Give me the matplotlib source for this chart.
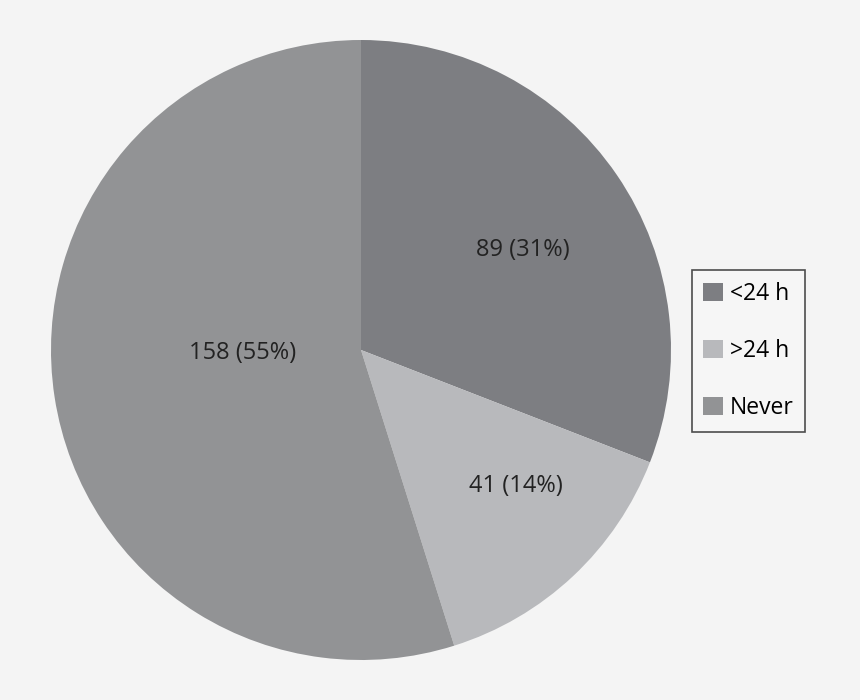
import matplotlib
matplotlib.use("Agg")
import matplotlib.pyplot as plt
from matplotlib.patches import Patch

categories = ["<24 h", ">24 h", "Never"]
values = [89, 41, 158]
colors = ["#7d7e82", "#b8b9bc", "#929395"]
label_pos = [(0.523, 0.322), (0.50, -0.440), (-0.381, -0.010)]

plt.rcParams['font.family'] = ['Open Sans', 'DejaVu Sans']
fig = plt.figure(figsize=(8.6, 7), dpi=100, facecolor="#f4f4f4")
ax = fig.add_axes([(361 - 310) / 860, (700 - 350 - 310) / 700, 620 / 860, 620 / 700])
ax.set_facecolor("#f4f4f4")
total = sum(values)
wedges, _ = ax.pie(values, colors=colors, startangle=90, counterclock=False,
                   radius=1.0, wedgeprops=dict(linewidth=0))
for v, (x, y) in zip(values, label_pos):
    ax.text(x, y, f"{v} ({round(100 * v / total)}%)", ha="center", va="center",
            fontsize=17, color="#222222")
ax.set_xlim(-1, 1)
ax.set_ylim(-1, 1)
ax.set_aspect("equal")

handles = [Patch(facecolor=c, edgecolor="none", label=l) for c, l in zip(colors, categories)]
leg = fig.legend(handles=handles, loc="center", bbox_to_anchor=(748.5 / 860, 1 - 351 / 700),
                 frameon=True, fontsize=16.5, handlelength=0.85, handleheight=0.85,
                 handletextpad=0.3, labelspacing=1.45, borderpad=0.5, fancybox=False,
                 borderaxespad=0)
leg.get_frame().set_edgecolor("#222222")
leg.get_frame().set_linewidth(1.2)
leg.get_frame().set_facecolor("#f7f7f7")
fig.savefig("out.png", dpi=100, facecolor=fig.get_facecolor())
